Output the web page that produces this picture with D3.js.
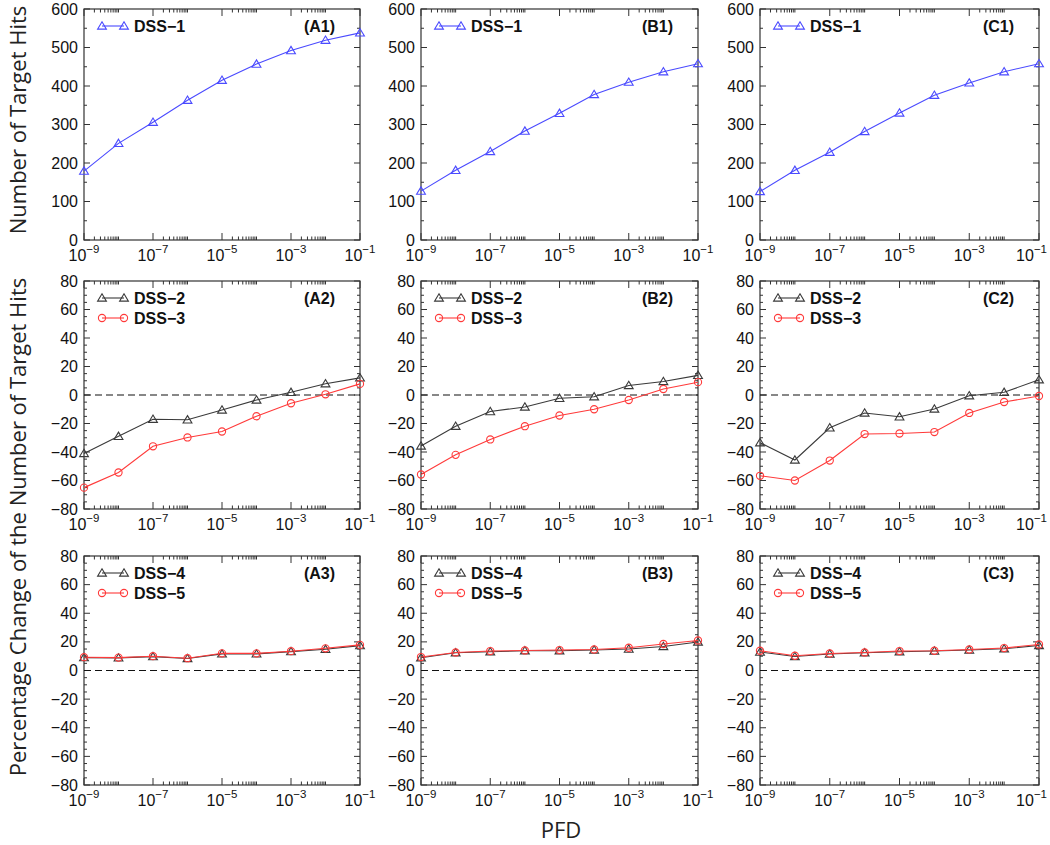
<!DOCTYPE html>
<html>
<head>
<meta charset="utf-8">
<script src="https://cdn.jsdelivr.net/npm/d3@7"></script>
<style>
  body { margin: 0; background: #fff; }
  text { font-family: "Liberation Sans", Arial, sans-serif; }
</style>
</head>
<body>
<script>
// ---------- data ----------
const pfd = [1e-9, 1e-8, 1e-7, 1e-6, 1e-5, 1e-4, 1e-3, 1e-2, 1e-1];
const majorExponents = [-9, -7, -5, -3, -1];
const panelLabels = [["(A1)", "(B1)", "(C1)"], ["(A2)", "(B2)", "(C2)"], ["(A3)", "(B3)", "(C3)"]];
const seriesNames = ["DSS−1", "DSS−2", "DSS−3", "DSS−4", "DSS−5"];
const yTicksTop = [0, 100, 200, 300, 400, 500, 600];
const yTicksPct = [-80, -60, -40, -20, 0, 20, 40, 60, 80];

// Row 1: number of target hits
const dss1A = [179, 251, 306, 363, 415, 457, 492, 519, 538];
const dss1B = [127, 181, 230, 283, 329, 378, 410, 437, 458];
const dss1C = [126, 181, 228, 282, 330, 376, 408, 437, 458];

// Row 2: percentage change
const dss2A = [-41, -29, -17, -17.4, -10.5, -3.5, 1.9, 7.9, 12];
const dss3A = [-65, -54.4, -36, -29.8, -25.6, -14.9, -5.8, 0.5, 7.8];
const dss2B = [-35.8, -21.9, -11.6, -8.4, -2.3, -1.2, 6.7, 9.5, 13.8];
const dss3B = [-55.8, -42, -31.2, -21.9, -14.4, -10, -3.5, 4.2, 9];
const dss2C = [-33.5, -45.6, -23, -12.6, -15.3, -9.8, -0.5, 1.9, 10.7];
const dss3C = [-56.7, -60, -46, -27.4, -27, -26, -12.6, -4.9, -0.7];

// Row 3: percentage change
const dss4A = [9, 8.8, 9.7, 8.4, 11.6, 11.6, 13.2, 14.8, 17.4];
const dss5A = [9.3, 9, 10, 8.6, 12, 12, 13.5, 15.5, 17.9];
const dss4B = [8.9, 12.4, 13.1, 13.8, 13.8, 14.3, 15, 16.8, 19.9];
const dss5B = [9.4, 12.6, 13.6, 14, 14.3, 14.7, 15.9, 18.5, 21];
const dss4C = [12.9, 9.8, 11.5, 12.4, 13.1, 13.6, 14.3, 15.2, 17.5];
const dss5C = [13.8, 10.3, 11.9, 12.6, 13.6, 13.8, 14.7, 15.7, 18.2];

// ---------- styles & layout ----------
const colors = { blue: "#4a4aff", black: "#3a3a3a", red: "#ff3a3a" };
const rowsLayout = [{ top: 9, bottom: 240 }, { top: 281, bottom: 509 }, { top: 556, bottom: 785 }];
const colsLayout = [{ left: 84, right: 360 }, { left: 421, right: 698 }, { left: 760, right: 1039 }];

const rowSeries = [
  [[{ name: seriesNames[0], v: dss1A, c: colors.blue, m: "tri" }],
   [{ name: seriesNames[0], v: dss1B, c: colors.blue, m: "tri" }],
   [{ name: seriesNames[0], v: dss1C, c: colors.blue, m: "tri" }]],
  [[{ name: seriesNames[1], v: dss2A, c: colors.black, m: "tri" }, { name: seriesNames[2], v: dss3A, c: colors.red, m: "circ" }],
   [{ name: seriesNames[1], v: dss2B, c: colors.black, m: "tri" }, { name: seriesNames[2], v: dss3B, c: colors.red, m: "circ" }],
   [{ name: seriesNames[1], v: dss2C, c: colors.black, m: "tri" }, { name: seriesNames[2], v: dss3C, c: colors.red, m: "circ" }]],
  [[{ name: seriesNames[3], v: dss4A, c: colors.black, m: "tri" }, { name: seriesNames[4], v: dss5A, c: colors.red, m: "circ" }],
   [{ name: seriesNames[3], v: dss4B, c: colors.black, m: "tri" }, { name: seriesNames[4], v: dss5B, c: colors.red, m: "circ" }],
   [{ name: seriesNames[3], v: dss4C, c: colors.black, m: "tri" }, { name: seriesNames[4], v: dss5C, c: colors.red, m: "circ" }]]
];

const svg = d3.select("body").append("svg").attr("width", 1050).attr("height", 845);

function marker(g, type, x, y, color) {
  if (type === "tri") {
    const s = 4.2;
    g.append("path")
      .attr("d", `M${x},${y - s} L${x + s * 1.05},${y + s * 0.75} L${x - s * 1.05},${y + s * 0.75} Z`)
      .attr("fill", "none").attr("stroke", color).attr("stroke-width", 1.1);
  } else {
    g.append("circle").attr("cx", x).attr("cy", y).attr("r", 3.6)
      .attr("fill", "none").attr("stroke", color).attr("stroke-width", 1.1);
  }
}

rowsLayout.forEach((R, ri) => {
  colsLayout.forEach((C, ci) => {
    const g = svg.append("g");
    const x = d3.scaleLog().domain([1e-9, 1e-1]).range([C.left, C.right]);
    const isTop = ri === 0;
    const y = d3.scaleLinear().domain(isTop ? [0, 600] : [-80, 80]).range([R.bottom, R.top]);
    const majorY = isTop ? yTicksTop : yTicksPct;
    const minorStep = isTop ? 50 : 5;
    const minorY = d3.range(y.domain()[0], y.domain()[1] + 0.001, minorStep).filter(v => !majorY.includes(v));

    const axisColor = "#333";
    majorY.forEach(v => {
      g.append("line").attr("x1", C.left).attr("x2", C.left + 6).attr("y1", y(v)).attr("y2", y(v)).attr("stroke", axisColor);
      g.append("line").attr("x1", C.right).attr("x2", C.right - 6).attr("y1", y(v)).attr("y2", y(v)).attr("stroke", axisColor);
      g.append("text").attr("x", C.left - 6).attr("y", y(v) + 5.5).attr("text-anchor", "end")
        .attr("font-size", 16).attr("fill", "#111").text(d3.format("")(v).replace("-", "−"));
    });
    minorY.forEach(v => {
      g.append("line").attr("x1", C.left).attr("x2", C.left + 3).attr("y1", y(v)).attr("y2", y(v)).attr("stroke", axisColor);
      g.append("line").attr("x1", C.right).attr("x2", C.right - 3).attr("y1", y(v)).attr("y2", y(v)).attr("stroke", axisColor);
    });
    majorExponents.forEach(e => {
      const px = x(Math.pow(10, e));
      g.append("line").attr("x1", px).attr("x2", px).attr("y1", R.bottom).attr("y2", R.bottom - 7).attr("stroke", axisColor);
      g.append("line").attr("x1", px).attr("x2", px).attr("y1", R.top).attr("y2", R.top + 7).attr("stroke", axisColor);
      const t = g.append("text").attr("x", px).attr("y", R.bottom + 21).attr("text-anchor", "middle")
        .attr("font-size", 16).attr("fill", "#111");
      t.append("tspan").text("10");
      t.append("tspan").attr("dy", -8).attr("font-size", 11.5).text("−" + Math.abs(e));
      // keep the label inside the page
      const bb = t.node().getBBox();
      if (bb.x + bb.width > 1047) t.attr("x", px - (bb.x + bb.width - 1047));
      if (e < -1) {
        for (let k = 2; k <= 10; k++) {
          const mx = x(k * Math.pow(10, e));
          g.append("line").attr("x1", mx).attr("x2", mx).attr("y1", R.bottom).attr("y2", R.bottom - 3.5).attr("stroke", axisColor);
          g.append("line").attr("x1", mx).attr("x2", mx).attr("y1", R.top).attr("y2", R.top + 3.5).attr("stroke", axisColor);
        }
      }
    });
    g.append("rect").attr("x", C.left).attr("y", R.top).attr("width", C.right - C.left).attr("height", R.bottom - R.top)
      .attr("fill", "none").attr("stroke", axisColor).attr("stroke-width", 1.2);

    if (!isTop) {
      g.append("line").attr("x1", C.left).attr("x2", C.right).attr("y1", y(0)).attr("y2", y(0))
        .attr("stroke", "#111").attr("stroke-width", 1.1).attr("stroke-dasharray", "7,4");
    }

    const series = rowSeries[ri][ci];
    series.forEach(s => {
      const line = d3.line().x((d, i) => x(pfd[i])).y(d => y(d));
      g.append("path").datum(s.v).attr("d", line).attr("fill", "none").attr("stroke", s.c).attr("stroke-width", 1.1);
      s.v.forEach((d, i) => marker(g, s.m, x(pfd[i]), y(d), s.c));
    });

    series.forEach((s, si) => {
      const ly = R.top + 17 + si * 20;
      const lx1 = C.left + 18, lx2 = C.left + 40;
      g.append("line").attr("x1", lx1).attr("x2", lx2).attr("y1", ly).attr("y2", ly).attr("stroke", s.c).attr("stroke-width", 1.1);
      marker(g, s.m, lx1, ly, s.c);
      marker(g, s.m, lx2, ly, s.c);
      g.append("text").attr("x", C.left + 50).attr("y", ly + 6).attr("font-size", 16).attr("font-weight", "bold")
        .attr("fill", "#111").text(s.name);
    });
    g.append("text").attr("x", C.right - 25).attr("y", R.top + 23).attr("text-anchor", "end")
      .attr("font-size", 16).attr("font-weight", "bold").attr("fill", "#111").text(panelLabels[ri][ci]);
  });
});

const titleFont = "'Open Sans', 'DejaVu Sans', sans-serif";
svg.append("text").attr("transform", "translate(26,120) rotate(-90)").attr("text-anchor", "middle")
  .attr("font-size", 22).style("font-family", titleFont).attr("fill", "#222").text("Number of Target Hits");
svg.append("text").attr("transform", "translate(26,527) rotate(-90)").attr("text-anchor", "middle")
  .attr("font-size", 22).style("font-family", titleFont).attr("fill", "#222").text("Percentage Change of the Number of Target Hits");
svg.append("text").attr("x", 561).attr("y", 838).attr("text-anchor", "middle")
  .attr("font-size", 22).style("font-family", titleFont).attr("fill", "#222").text("PFD");
</script>
</body>
</html>
